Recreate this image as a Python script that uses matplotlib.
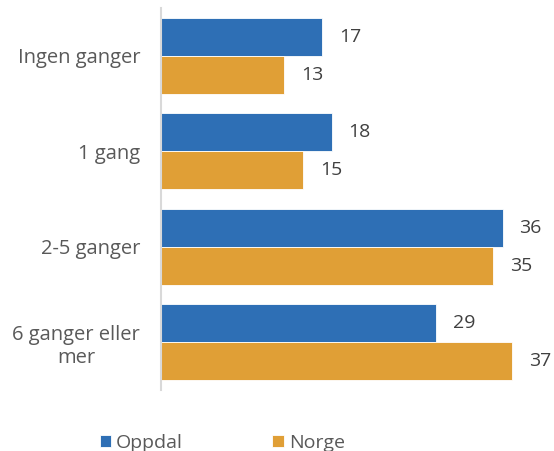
import matplotlib.pyplot as plt
import numpy as np

categories = ["Ingen ganger", "1 gang", "2-5 ganger", "6 ganger eller\nmer"]
oppdal = [17, 18, 36, 29]
norge = [13, 15, 35, 37]
series_names = ["Oppdal", "Norge"]

blue = "#2E6FB5"
orange = "#E09F36"
plt.rcParams['font.family'] = ['Open Sans', 'DejaVu Sans']

fig = plt.figure(figsize=(5.54, 4.51), dpi=100)
ax = fig.add_axes([161 / 554, (451 - 390) / 451, 1 - 161 / 554, 382 / 451])

y = np.arange(len(categories))
h = 0.4
b1 = ax.barh(y - h / 2, oppdal, height=h, color=blue, edgecolor="white", linewidth=0.6, label=series_names[0])
b2 = ax.barh(y + h / 2, norge, height=h, color=orange, edgecolor="white", linewidth=0.6, label=series_names[1])

for bars, vals in [(b1, oppdal), (b2, norge)]:
    for bar, v in zip(bars, vals):
        ax.annotate(str(v), (bar.get_width(), bar.get_y() + bar.get_height() / 2),
                    xytext=(12, 0), textcoords="offset points",
                    va="center", ha="left", fontsize=14, color="#404040")

ax.set_xlim(0, 41.4)
ax.set_ylim(3.5, -0.5)
ax.set_yticks(y)
ax.set_yticklabels(categories, fontsize=14.5, color="#595959", multialignment="center")
ax.tick_params(axis="y", length=0, pad=15)
ax.set_xticks([])
for s in ["top", "right", "bottom"]:
    ax.spines[s].set_visible(False)
ax.spines["left"].set_color("#D9D9D9")
ax.spines["left"].set_linewidth(1.5)

fig.legend(handles=[b1, b2], labels=series_names, loc="lower left", bbox_to_anchor=(82 / 554, -0.04),
           ncol=2, frameon=False, fontsize=14, handlelength=0.6, handleheight=0.6,
           handletextpad=0.25, columnspacing=4.6, labelcolor="#595959")

fig.savefig("out.png", dpi=100)
